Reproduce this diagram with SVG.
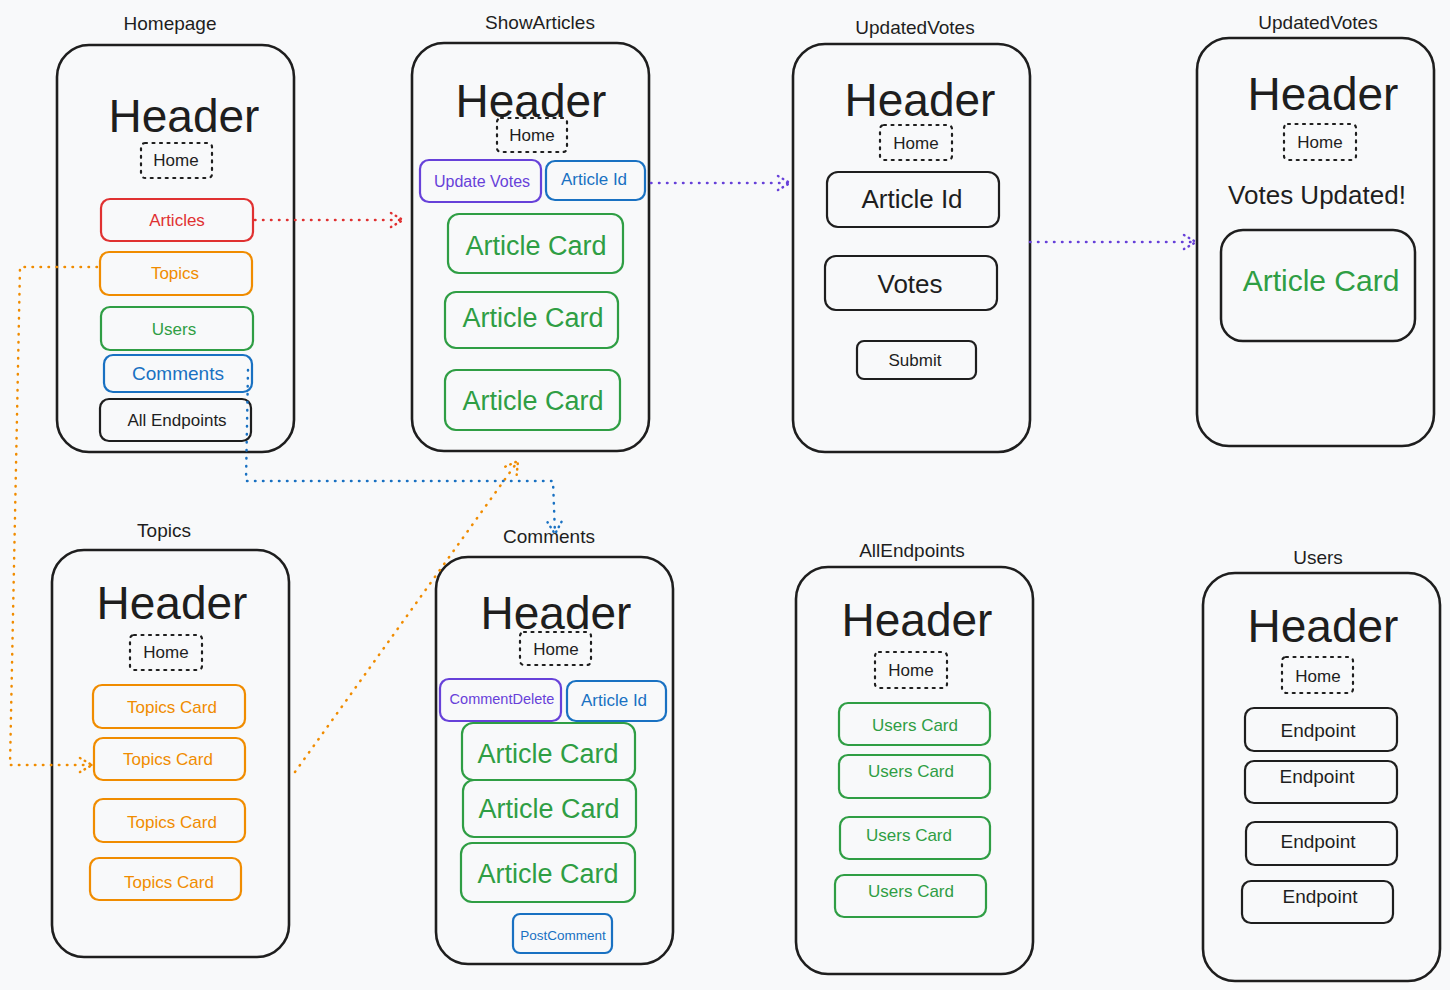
<svg xmlns="http://www.w3.org/2000/svg" width="1450" height="990" viewBox="0 0 1450 990">
<defs>
<style>
text{font-family:"Liberation Sans",Arial,sans-serif;text-anchor:middle;dominant-baseline:central;fill:#1e1e1e}
.title{font-size:19px}
.hdr{font-size:46px}
.home{font-size:17px}
.frame{fill:none;stroke:#1e1e1e;stroke-width:2.6}
.homebox{fill:none;stroke:#1e1e1e;stroke-width:2.2;stroke-dasharray:2 5.5;stroke-linecap:round}
.box{fill:none;stroke-width:2.2}
.k{stroke:#1e1e1e}.kt{fill:#1e1e1e}
.r{stroke:#e03131}.rt{fill:#e03131}
.o{stroke:#f08c00}.ot{fill:#f08c00}
.g{stroke:#2f9e44}.gt{fill:#2f9e44}
.b{stroke:#1971c2}.bt{fill:#1971c2}
.p{stroke:#6741d9}.pt{fill:#6741d9}
.con{fill:none;stroke-width:2.5;stroke-dasharray:0.5 7.5;stroke-linecap:round;stroke-linejoin:round}
.ah{fill:none;stroke-width:2.5;stroke-dasharray:0.5 5;stroke-linecap:round}
</style>
<marker id="mr" markerUnits="userSpaceOnUse" markerWidth="30" markerHeight="30" refX="28" refY="15" orient="auto" overflow="visible"><path class="ah" stroke="#e03131" d="M16,8 L28,15 L16,22"/></marker>
<marker id="mo" markerUnits="userSpaceOnUse" markerWidth="30" markerHeight="30" refX="28" refY="15" orient="auto" overflow="visible"><path class="ah" stroke="#f08c00" d="M16,8 L28,15 L16,22"/></marker>
<marker id="mb" markerUnits="userSpaceOnUse" markerWidth="30" markerHeight="30" refX="28" refY="15" orient="auto" overflow="visible"><path class="ah" stroke="#1971c2" d="M16,8 L28,15 L16,22"/></marker>
<marker id="mp" markerUnits="userSpaceOnUse" markerWidth="30" markerHeight="30" refX="28" refY="15" orient="auto" overflow="visible"><path class="ah" stroke="#6741d9" d="M16,8 L28,15 L16,22"/></marker>
</defs>
<rect width="1450" height="990" fill="#f8f9fa"/>

<g id="homepage">
<text class="title" x="170" y="23">Homepage</text>
<rect class="frame" x="57" y="45" width="237" height="407" rx="32"/>
<text class="hdr" x="184" y="116">Header</text>
<rect class="homebox" x="141" y="143" width="71" height="35" rx="4"/>
<text class="home" x="176" y="160">Home</text>
<rect class="box r" x="101" y="199" width="152" height="42" rx="9"/>
<text class="rt" x="177" y="220" font-size="17">Articles</text>
<rect class="box o" x="100" y="252" width="152" height="43" rx="9"/>
<text class="ot" x="175" y="273" font-size="17">Topics</text>
<rect class="box g" x="101" y="307" width="152" height="43" rx="9"/>
<text class="gt" x="174" y="329" font-size="17">Users</text>
<rect class="box b" x="104" y="355" width="148" height="37" rx="9"/>
<text class="bt" x="178" y="373" font-size="19">Comments</text>
<rect class="box k" x="100" y="399" width="151" height="42" rx="9"/>
<text x="177" y="420" font-size="17">All Endpoints</text>
</g>

<g id="showarticles">
<text class="title" x="540" y="22">ShowArticles</text>
<rect class="frame" x="412" y="43" width="237" height="408" rx="32"/>
<text class="hdr" x="531" y="101">Header</text>
<rect class="homebox" x="497" y="118" width="70" height="34" rx="4"/>
<text class="home" x="532" y="135">Home</text>
<rect class="box p" x="420" y="160" width="121" height="42" rx="9"/>
<text class="pt" x="482" y="181" font-size="16">Update Votes</text>
<rect class="box b" x="546" y="161" width="99" height="39" rx="9"/>
<text class="bt" x="594" y="179" font-size="17">Article Id</text>
<rect class="box g" x="448" y="214" width="175" height="59" rx="11"/>
<text class="gt" x="536" y="246" font-size="27">Article Card</text>
<rect class="box g" x="445" y="292" width="173" height="56" rx="11"/>
<text class="gt" x="533" y="318" font-size="27">Article Card</text>
<rect class="box g" x="445" y="370" width="175" height="60" rx="11"/>
<text class="gt" x="533" y="401" font-size="27">Article Card</text>
</g>

<g id="updatedvotes1">
<text class="title" x="915" y="27">UpdatedVotes</text>
<rect class="frame" x="793" y="44" width="237" height="408" rx="32"/>
<text class="hdr" x="920" y="100">Header</text>
<rect class="homebox" x="880" y="125" width="72" height="35" rx="4"/>
<text class="home" x="916" y="143">Home</text>
<rect class="box k" x="827" y="172" width="172" height="55" rx="11"/>
<text x="912" y="199" font-size="26">Article Id</text>
<rect class="box k" x="825" y="256" width="172" height="54" rx="11"/>
<text x="910" y="284" font-size="26">Votes</text>
<rect class="box k" x="857" y="341" width="119" height="38" rx="7"/>
<text x="915" y="360" font-size="17">Submit</text>
</g>

<g id="updatedvotes2">
<text class="title" x="1318" y="22">UpdatedVotes</text>
<rect class="frame" x="1197" y="38" width="237" height="408" rx="32"/>
<text class="hdr" x="1323" y="94">Header</text>
<rect class="homebox" x="1284" y="124" width="72" height="36" rx="4"/>
<text class="home" x="1320" y="142">Home</text>
<text x="1317" y="195" font-size="26">Votes Updated!</text>
<rect class="box k" x="1221" y="230" width="194" height="111" rx="22" style="stroke-width:2.5"/>
<text class="gt" x="1321" y="280" font-size="30">Article Card</text>
</g>

<g id="topics">
<text class="title" x="164" y="530">Topics</text>
<rect class="frame" x="52" y="550" width="237" height="407" rx="32"/>
<text class="hdr" x="172" y="603">Header</text>
<rect class="homebox" x="130" y="635" width="72" height="35" rx="4"/>
<text class="home" x="166" y="652">Home</text>
<rect class="box o" x="93" y="685" width="152" height="43" rx="9"/>
<text class="ot" x="172" y="707" font-size="17">Topics Card</text>
<rect class="box o" x="94" y="738" width="151" height="42" rx="9"/>
<text class="ot" x="168" y="759" font-size="17">Topics Card</text>
<rect class="box o" x="94" y="799" width="151" height="43" rx="9"/>
<text class="ot" x="172" y="822" font-size="17">Topics Card</text>
<rect class="box o" x="90" y="858" width="151" height="42" rx="9"/>
<text class="ot" x="169" y="882" font-size="17">Topics Card</text>
</g>

<g id="comments">
<text class="title" x="549" y="536">Comments</text>
<rect class="frame" x="436" y="557" width="237" height="407" rx="32"/>
<text class="hdr" x="556" y="613">Header</text>
<rect class="homebox" x="520" y="632" width="71" height="33" rx="4"/>
<text class="home" x="556" y="649">Home</text>
<rect class="box p" x="440" y="679" width="121" height="42" rx="9"/>
<text class="pt" x="502" y="699" font-size="14.5">CommentDelete</text>
<rect class="box b" x="567" y="681" width="99" height="40" rx="9"/>
<text class="bt" x="614" y="700" font-size="17">Article Id</text>
<rect class="box g" x="462" y="723" width="173" height="57" rx="11"/>
<text class="gt" x="548" y="754" font-size="27">Article Card</text>
<rect class="box g" x="463" y="780" width="173" height="57" rx="11"/>
<text class="gt" x="549" y="809" font-size="27">Article Card</text>
<rect class="box g" x="461" y="843" width="174" height="59" rx="11"/>
<text class="gt" x="548" y="874" font-size="27">Article Card</text>
<rect class="box b" x="513" y="914" width="99" height="39" rx="7"/>
<text class="bt" x="563" y="935" font-size="13.5">PostComment</text>
</g>

<g id="allendpoints">
<text class="title" x="912" y="550">AllEndpoints</text>
<rect class="frame" x="796" y="567" width="237" height="407" rx="32"/>
<text class="hdr" x="917" y="620">Header</text>
<rect class="homebox" x="875" y="652" width="72" height="36" rx="4"/>
<text class="home" x="911" y="670">Home</text>
<rect class="box g" x="839" y="703" width="151" height="42" rx="9"/>
<text class="gt" x="915" y="725" font-size="17">Users Card</text>
<rect class="box g" x="839" y="755" width="151" height="43" rx="9"/>
<text class="gt" x="911" y="771" font-size="17">Users Card</text>
<rect class="box g" x="840" y="817" width="150" height="42" rx="9"/>
<text class="gt" x="909" y="835" font-size="17">Users Card</text>
<rect class="box g" x="835" y="875" width="151" height="42" rx="9"/>
<text class="gt" x="911" y="891" font-size="17">Users Card</text>
</g>

<g id="users">
<text class="title" x="1318" y="557">Users</text>
<rect class="frame" x="1203" y="573" width="237" height="408" rx="32"/>
<text class="hdr" x="1323" y="626">Header</text>
<rect class="homebox" x="1282" y="657" width="71" height="36" rx="4"/>
<text class="home" x="1318" y="676">Home</text>
<rect class="box k" x="1245" y="708" width="152" height="43" rx="9"/>
<text x="1318" y="730" font-size="19">Endpoint</text>
<rect class="box k" x="1245" y="761" width="152" height="42" rx="9"/>
<text x="1317" y="776" font-size="19">Endpoint</text>
<rect class="box k" x="1246" y="822" width="151" height="43" rx="9"/>
<text x="1318" y="841" font-size="19">Endpoint</text>
<rect class="box k" x="1242" y="881" width="151" height="42" rx="9"/>
<text x="1320" y="896" font-size="19">Endpoint</text>
</g>

<g id="connectors">
<path class="con" stroke="#e03131" d="M255,220 L403,220" marker-end="url(#mr)"/>
<path class="con" stroke="#f08c00" d="M97,267 L20,267 L10,765 L92,765" marker-end="url(#mo)"/>
<path class="con" stroke="#6741d9" d="M651,183 L790,183" marker-end="url(#mp)"/>
<path class="con" stroke="#6741d9" d="M1030,242 L1196,242" marker-end="url(#mp)"/>
<path class="con" stroke="#f08c00" d="M295,772 L518,461" marker-end="url(#mo)"/>
<path class="con" stroke="#1971c2" d="M248,370 L246,481 L553,481 L555,534" marker-end="url(#mb)"/>
</g>
</svg>
